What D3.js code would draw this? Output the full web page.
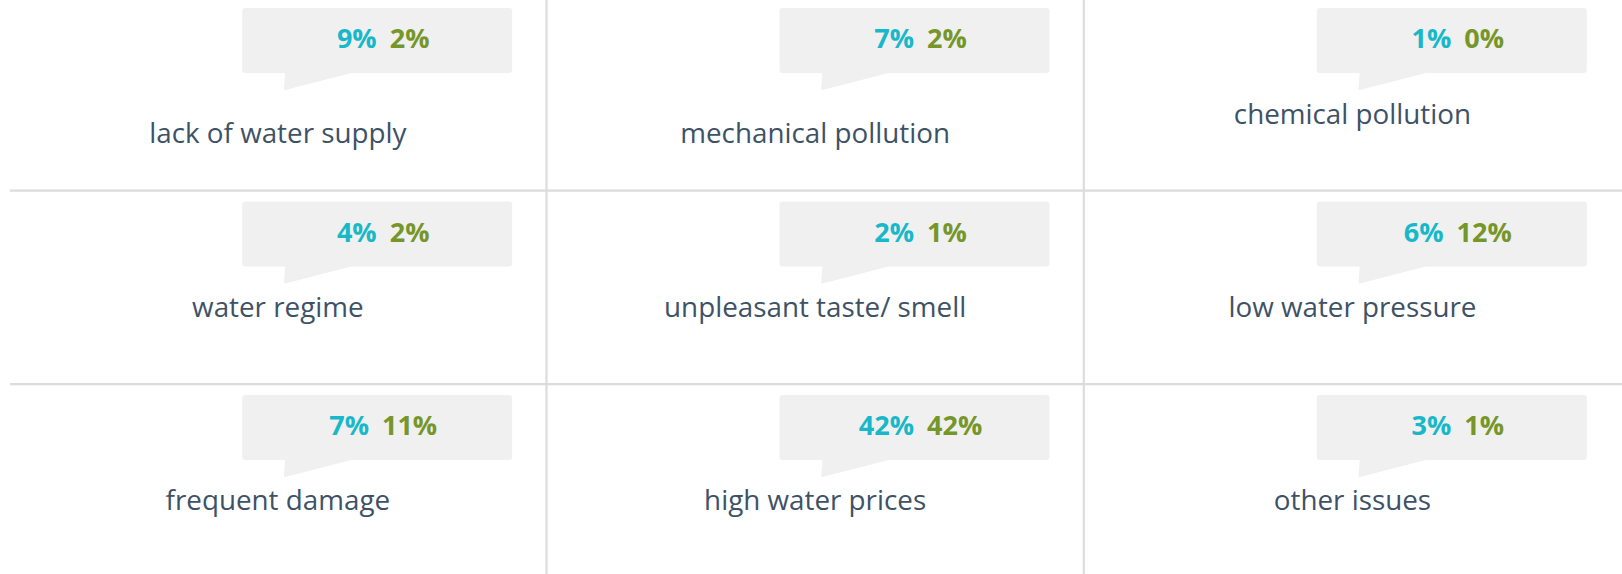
<!DOCTYPE html>
<html>
<head>
<meta charset="utf-8">
<script src="https://cdn.jsdelivr.net/npm/d3@7"></script>
<style>
    html, body { margin: 0; padding: 0; background: #fff; }
    svg { display: block; }
</style>
</head>
<body>
<div id="chart"></div>
<script>
var categories = ['lack of water supply', 'mechanical pollution', 'chemical pollution',
                  'water regime', 'unpleasant taste/ smell', 'low water pressure',
                  'frequent damage', 'high water prices', 'other issues'];
var seriesA = [9, 7, 1, 4, 2, 6, 7, 42, 3];
var seriesB = [2, 2, 0, 2, 1, 12, 11, 42, 1];

var W = 1622, H = 574;
var ncol = 3;

// how far each label sits below its bubble (first two sit lower in the original)
var labelDrop = [135, 135, 116, 115, 115, 115, 115, 115, 115];

var svg = d3.select('#chart').append('svg').attr('width', W).attr('height', H);

var x = d3.scaleBand().domain(d3.range(ncol)).range([9.2, 1621.1]);
var y = d3.scalePoint().domain(d3.range(Math.ceil(categories.length / ncol))).range([8, 395]);

var fmt = function(v){ return v + '%'; };

// grid lines
var grid = svg.append('g').attr('stroke', '#dcdcdc').attr('stroke-width', 2.2);
x.domain().slice(1).forEach(function(c){
    grid.append('line').attr('x1', x(c)).attr('x2', x(c)).attr('y1', 0).attr('y2', H);
});
y.domain().slice(1).forEach(function(r){
    grid.append('line').attr('x1', 10).attr('x2', W).attr('y1', y(r) - 10.8).attr('y2', y(r) - 10.8);
});

var cells = svg.selectAll('g.cell').data(categories).enter().append('g')
    .attr('class', 'cell')
    .attr('transform', function(d, i){
        return 'translate(' + x(i % ncol) + ',' + y(Math.floor(i / ncol)) + ')';
    });

// speech bubble
cells.append('rect')
    .attr('x', 233).attr('y', 0).attr('width', 270).attr('height', 65)
    .attr('rx', 3).attr('fill', '#f0f0f0');
cells.append('path')
    .attr('d', 'M' + (233 + 43) + ',64 L' + (233 + 113) + ',64 L' + (233 + 43) + ',82 Q' + (233 + 41.5) + ',82.5 ' + (233 + 41.8) + ',80 Z')
    .attr('fill', '#f0f0f0');

var pct = cells.append('text')
    .attr('x', 374).attr('y', 40)
    .attr('text-anchor', 'middle')
    .style('font-family', '"Open Sans", "Noto Sans", sans-serif')
    .style('font-size', '27px').style('font-weight', 700);
pct.append('tspan').attr('fill', '#18b8c8').text(function(d, i){ return fmt(seriesA[i]); });
pct.append('tspan').attr('fill', '#76962a').attr('dx', 13).text(function(d, i){ return fmt(seriesB[i]); });

cells.append('text')
    .attr('x', x.bandwidth() / 2)
    .attr('y', function(d, i){ return labelDrop[i]; })
    .attr('text-anchor', 'middle')
    .attr('fill', '#3e5266')
    .style('font-family', '"Open Sans", "Noto Sans", sans-serif')
    .style('font-size', '27.8px')
    .text(function(d){ return d; });
</script>
</body>
</html>
